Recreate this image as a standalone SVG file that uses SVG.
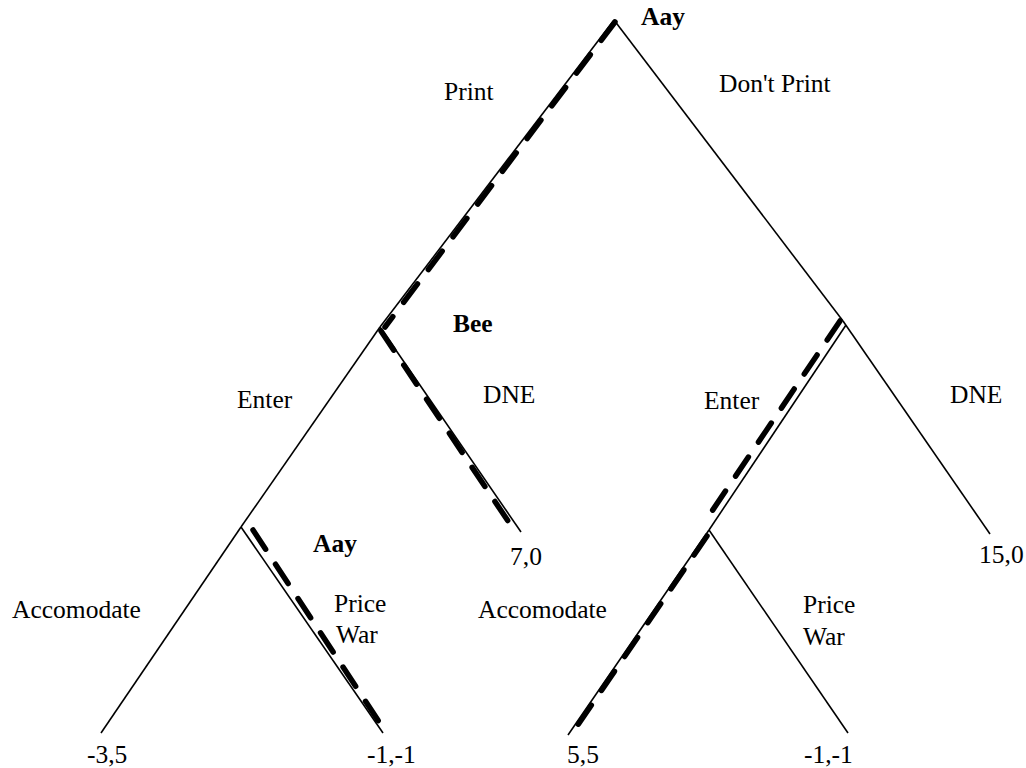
<svg xmlns="http://www.w3.org/2000/svg" width="1026" height="768" viewBox="0 0 1026 768">
<style>
.e{stroke:#000;stroke-width:1.6;fill:none}
.d{stroke:#000;stroke-width:5.5;fill:none;stroke-dasharray:23 18;stroke-linecap:round}
text{font-family:"Liberation Serif","Times New Roman",serif;font-size:25.5px;fill:#000}
.b{font-weight:bold}
</style>
<rect width="1026" height="768" fill="#fff"/>
<g id="connectors">
<line class="e" x1="614" y1="20" x2="380" y2="327"/>
<line class="e" x1="614" y1="20" x2="843" y2="321"/>
<line class="e" x1="380" y1="327" x2="241" y2="527"/>
<line class="e" x1="380" y1="327" x2="521" y2="532"/>
<line class="e" x1="843" y1="321" x2="990" y2="534"/>
<line class="e" x1="846" y1="325" x2="709" y2="530"/>
<line class="e" x1="241" y1="527" x2="101" y2="733"/>
<line class="e" x1="241" y1="527" x2="383" y2="733"/>
<line class="e" x1="709" y1="530" x2="568" y2="735"/>
<line class="e" x1="709" y1="530" x2="848" y2="733"/>
<line class="d" x1="615" y1="22" x2="385" y2="327"/>
<line class="d" x1="381" y1="331" x2="514" y2="530"/>
<line class="d" x1="253" y1="530" x2="385" y2="731"/>
<line class="d" x1="840" y1="321" x2="706" y2="520"/>
<line class="d" x1="707" y1="536" x2="573" y2="732"/>
</g>
<g id="root"><text class="b" x="641" y="25">Aay</text></g>
<g id="print"><text x="444" y="100">Print</text></g>
<g id="dontprint"><text x="719" y="92">Don't Print</text></g>
<g id="bee"><text class="b" x="453" y="332">Bee</text></g>
<g id="enter1"><text x="237" y="408">Enter</text></g>
<g id="dne1"><text x="483" y="403">DNE</text></g>
<g id="enter2"><text x="704" y="409">Enter</text></g>
<g id="dne2"><text x="950" y="403">DNE</text></g>
<g id="aay2"><text class="b" x="313" y="552">Aay</text></g>
<g id="p70"><text x="510" y="565">7,0</text></g>
<g id="p150"><text x="979" y="563">15,0</text></g>
<g id="acc1"><text x="12" y="618">Accomodate</text></g>
<g id="pw1"><text x="334" y="612">Price</text><text x="336" y="643">War</text></g>
<g id="acc2"><text x="478" y="618">Accomodate</text></g>
<g id="pw2"><text x="803" y="613">Price</text><text x="803" y="645">War</text></g>
<g id="pm35"><text x="87" y="763">-3,5</text></g>
<g id="pm11a"><text x="367" y="763">-1,-1</text></g>
<g id="p55"><text x="567" y="763">5,5</text></g>
<g id="pm11b"><text x="804" y="763">-1,-1</text></g>
</svg>
